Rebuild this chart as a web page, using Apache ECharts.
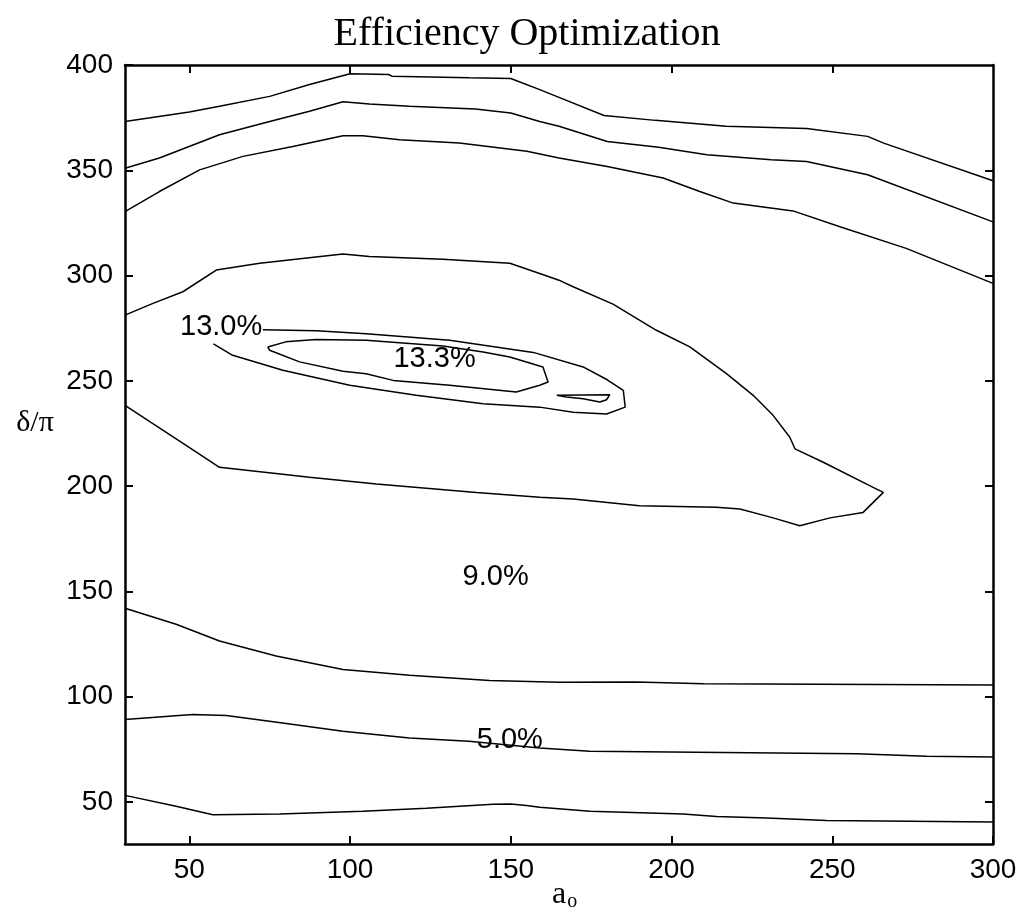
<!DOCTYPE html>
<html>
<head>
<meta charset="utf-8">
<title>Efficiency Optimization</title>
<script src="https://cdn.jsdelivr.net/npm/echarts@6/dist/echarts.min.js"></script>
<style>
  html, body { margin: 0; padding: 0; background: #fff; }
  #chart { width: 1020px; height: 915px; }
</style>
</head>
<body>
<div id="chart"></div>
<script>
// Axis ranges and tick values
const xRange = [30, 300];
const yRange = [30, 400];
const xTicks = [50, 100, 150, 200, 250, 300];
const yTicks = [50, 100, 150, 200, 250, 300, 350, 400];

// Contour lines of efficiency, as [a_o, delta/pi] points
const contourTop = [[30,373.2],[50,377.7],[59.4,380.4],[75,385.1],[87.4,390.7],[100,395.8],[112,395.5],[113,394.7],[137,393.9],[150,393.6],[159,388.3],[165,384.6],[179,376],[195,373.7],[217,370.9],[242,369.8],[261,366.1],[266,362.9],[300,345]];
const contourSecond = [[30,351],[40.7,355.8],[59.4,366.9],[75,373.2],[87.4,378],[97.8,382.5],[106,381.5],[118.5,380.4],[139,379.1],[150,377.2],[159,373.2],[165,370.9],[180,363.7],[196,360.9],[211,357.4],[231,355],[242,354.2],[261,347.9],[300,325.5]];
const contourThird = [[30,330.4],[40.7,339.9],[53.2,350.2],[66.7,356.6],[82.2,361.3],[97.8,366.4],[104,366.4],[115.4,364.5],[134,362.9],[155,359],[165,355.8],[180,351.8],[197.4,346.3],[208.8,339.9],[219.2,334.4],[237.8,330.7],[252.4,323.2],[273,312.9],[300,296.3]];
const contourNine = [[30,281.2],[38.7,286.8],[48,292.3],[58.4,302.6],[71.9,305.8],[97.8,310.2],[106,309],[128.9,307.7],[149.7,305.8],[159,301],[165,297.8],[169.4,294.7],[181.8,286.4],[195.3,274],[205.7,266.1],[217.1,253.4],[225.4,243.1],[231.6,233.6],[236.8,223.2],[238.4,217.7],[247.2,211.3],[262.7,199.4],[265.9,197],[259.6,187.5],[249.3,184.9],[239.9,181.2],[231.6,184.9],[221.3,189.1],[214,189.9],[190,190.7],[169.4,193.9],[159,194.7],[139.3,197],[108.2,201],[87.4,204.2],[59.4,208.9],[49,219.3],[30,238.3]];
const contour130 = [[72.9,274.2],[89.5,273.8],[105,272.3],[131,269.3],[157,263.5],[172.5,256.6],[180,250.5],[185,245.5],[185.6,237.5],[179.8,234.2],[169.4,235.1],[159,237.5],[141.4,239.1],[120.6,243.1],[99.9,247.9],[79.1,255],[63.5,262.1],[57.5,267.5]];
const contour133 = [[74.4,266.1],[80,268.5],[89.5,269.6],[105,269.3],[128.9,266.5],[141.4,263.7],[149.7,261.3],[160,256.6],[161.6,249.4],[159,247.9],[151.7,244.7],[131,247.9],[113.4,250.2],[105,253.4],[97.8,254.5],[84.3,259],[75,264.5],[74.4,266.1]];
const contour133b = [[164.3,243.1],[172.5,243.3],[180.8,243.4],[179.8,241],[177.7,239.9],[172.5,241.5],[167.3,242.3],[164.3,243.1]];
const contourSeven = [[30,142],[45.9,134.4],[59.4,126.4],[77,119.3],[97.8,112.9],[118.5,110.2],[143.4,107.7],[165,106.8],[189,107],[210,106.1],[300,105.5]];
const contourFive = [[30,89.1],[51,91.5],[61.5,91],[79,87.5],[97.8,83.5],[118.5,80.4],[137,78.8],[159,75.6],[174.6,74],[257.6,72.9],[279.4,71.7],[300,71.3]];
const contourBottom = [[30,53.1],[45.9,47.9],[57.3,43.9],[78.1,44.2],[104,45.5],[123.7,47],[144.5,48.9],[150,49],[154.9,48.3],[159,47.4],[174.6,45.5],[203.6,44.2],[214,43.1],[229.6,42.3],[248.2,41.2],[300,40.4]];

// Level labels: [a_o, delta/pi, text]
const levelLabels = [[59.9,275.6,'13.0%'],[126.3,260.2,'13.3%'],[145.3,156.9,'9.0%'],[149.7,79.3,'5.0%']];

const contours = [contourTop, contourSecond, contourThird, contourNine, contour130, contour133, contour133b, contourSeven, contourFive, contourBottom];

const sansFont = '"Liberation Sans", Arial, Helvetica, sans-serif';
const serifFont = '"Liberation Serif", "Times New Roman", serif';

const chart = echarts.init(document.getElementById('chart'), null, { renderer: 'canvas' });

function frameAxis(pos, range, ticks, showLabels) {
  return {
    type: 'value',
    position: pos,
    min: range[0],
    max: range[1],
    splitLine: { show: false },
    axisLine: { show: true, onZero: false, lineStyle: { color: '#000', width: 2.5 } },
    axisTick: { show: true, inside: true, length: 8, customValues: ticks, lineStyle: { color: '#000', width: 2 } },
    axisLabel: {
      show: showLabels,
      customValues: ticks,
      color: '#000',
      fontFamily: sansFont,
      fontSize: 28,
      margin: 12
    }
  };
}

const series = contours.map(function (pts) {
  return {
    type: 'line',
    data: pts,
    showSymbol: false,
    symbol: 'none',
    silent: true,
    lineStyle: { color: '#000', width: 1.5 },
    z: 3
  };
});

series.push({
  type: 'scatter',
  data: levelLabels,
  symbolSize: 0,
  silent: true,
  z: 5,
  itemStyle: { opacity: 1 },
  label: {
    show: true,
    position: 'inside',
    color: '#000',
    opacity: 1,
    fontFamily: sansFont,
    fontSize: 29,
    formatter: function (p) { return p.value[2]; }
  }
});

chart.setOption({
  animation: false,
  backgroundColor: '#fff',
  grid: { left: 125, right: 27, top: 65, bottom: 71, containLabel: false },
  xAxis: [
    frameAxis('bottom', xRange, xTicks, true),
    frameAxis('top', xRange, xTicks.slice(0, 5), false)
  ],
  yAxis: [
    frameAxis('left', yRange, yTicks, true),
    frameAxis('right', yRange, yTicks.slice(0, 7), false)
  ],
  graphic: [
    {
      type: 'text', x: 527, y: 34,
      style: { text: 'Efficiency Optimization', font: '40px ' + serifFont, fill: '#000', align: 'center', verticalAlign: 'middle' }
    },
    {
      type: 'text', x: 35, y: 423,
      style: { text: 'δ/π', font: '30px ' + serifFont, fill: '#000', align: 'center', verticalAlign: 'middle' }
    },
    {
      type: 'text', x: 552, y: 895,
      style: {
        text: '{a|a}{o|o}',
        align: 'left',
        verticalAlign: 'middle',
        rich: {
          a: { font: '32px ' + serifFont, fill: '#000' },
          o: { font: '20px ' + serifFont, fill: '#000', padding: [14, 0, 0, 1] }
        }
      }
    }
  ],
  series: series
});
</script>
</body>
</html>
